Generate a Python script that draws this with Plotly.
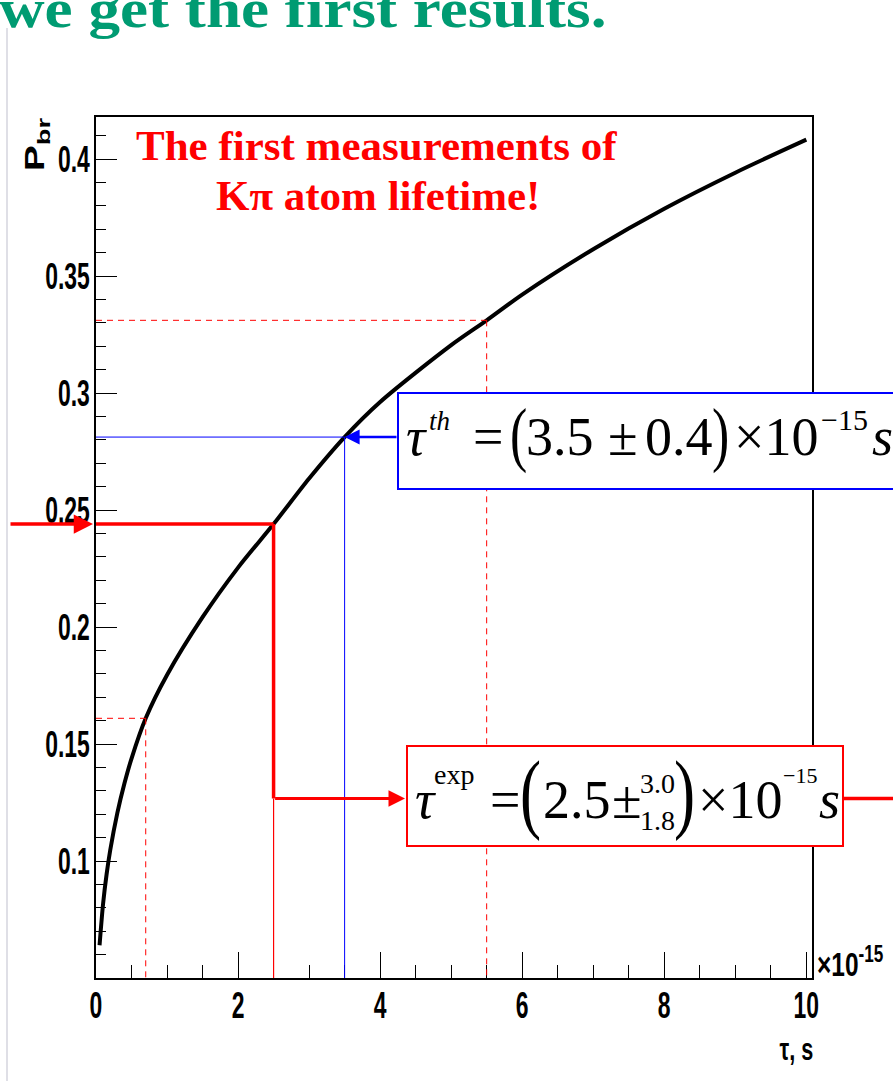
import numpy as np
import plotly.graph_objects as go

# ---- data -------------------------------------------------------------
# break-up probability of the K-pi atom versus its lifetime (units of 1e-15 s)
tau = [0.05, 0.1, 0.15, 0.2, 0.3, 0.4, 0.5, 0.7, 1.0, 1.5, 2.0, 2.5, 3.0,
       3.5, 4.0, 5.0, 5.5, 6.0, 7.0, 8.0, 9.0, 10.0]
p_br = [0.064, 0.0818, 0.0945, 0.1046, 0.1205, 0.1331, 0.1438, 0.161, 0.1795,
        0.2042, 0.2254, 0.244, 0.2635, 0.2812, 0.2962, 0.3205, 0.3311, 0.3421,
        0.3615, 0.3788, 0.3942, 0.4083]

tau_exp = 2.5          # measured lifetime
tau_exp_up = 3.0       # upper error
tau_exp_dn = 1.8       # lower error
tau_th = 3.5           # theoretical lifetime
tau_th_err = 0.4

x_tick_vals = [0, 2, 4, 6, 8, 10]
x_tick_text = ["0", "2", "4", "6", "8", "10"]
y_tick_vals = [0.1, 0.15, 0.2, 0.25, 0.3, 0.35, 0.4]
y_tick_text = ["0.1", "0.15", "0.2", "0.25", "0.3", "0.35", "0.4"]

# ---- geometry ---------------------------------------------------------
W, H = 893, 1081
ML, MR, MT, MB = 96, 81, 117, 103
X_RANGE = [0, 10.08]
Y_RANGE = [0.05, 0.418]
PW, PH = W - ML - MR, H - MT - MB

SERIF = "Liberation Serif, Times New Roman, serif"
SANS = "Liberation Sans, Arial, Helvetica, sans-serif"
RED, BLUE, GREEN = "#ff0000", "#0000ff", "#009b72"


def px_x(px):
    return (px - ML) / PW


def px_y(py):
    return (H - MB - py) / PH


def xdata_px(v):
    return ML + (v - X_RANGE[0]) / (X_RANGE[1] - X_RANGE[0]) * PW


def ydata_px(v):
    return H - MB - (v - Y_RANGE[0]) / (Y_RANGE[1] - Y_RANGE[0]) * PH


p_exp = float(np.interp(tau_exp, tau, p_br))
p_lo = float(np.interp(tau_exp - tau_exp_dn, tau, p_br))
p_hi = float(np.interp(tau_exp + tau_exp_up, tau, p_br))
p_th = float(np.interp(tau_th, tau, p_br))

annotations = []
shapes = []


def put(left, base, txt, size, family=SERIF, color="black", bold=False,
        italic=False, xanchor="left", desc=0.216):
    annotations.append(dict(
        xref="paper", yref="paper", x=px_x(left), y=px_y(base + desc * size),
        xanchor=xanchor, yanchor="bottom", align=xanchor, text=txt,
        showarrow=False, borderpad=0, borderwidth=0,
        font=dict(family=family, size=size, color=color,
                  weight="bold" if bold else "normal",
                  style="italic" if italic else "normal")))


def seg(x0, y0, x1, y1, color, width, dash="solid", ref="data"):
    d = dict(type="line", x0=x0, y0=y0, x1=x1, y1=y1, layer="above",
             line=dict(color=color, width=width, dash=dash))
    if ref == "data":
        d.update(xref="x", yref="y")
    else:
        d.update(xref="paper", yref="paper")
    shapes.append(d)


# ---- curve ------------------------------------------------------------
fig = go.Figure()
fig.add_trace(go.Scatter(x=tau, y=p_br, mode="lines",
                         line=dict(color="black", width=4, shape="spline",
                                   smoothing=0.8),
                         hoverinfo="skip", showlegend=False))

# ---- guide lines ------------------------------------------------------
arrow_y_exp = 0.1267
dash = "6px,5px"
seg(0, p_lo, tau_exp - tau_exp_dn, p_lo, RED, 1, dash)
seg(tau_exp - tau_exp_dn, p_lo, tau_exp - tau_exp_dn, Y_RANGE[0], RED, 1, dash)
seg(0, p_hi, tau_exp + tau_exp_up, p_hi, RED, 1, dash)
seg(tau_exp + tau_exp_up, p_hi, tau_exp + tau_exp_up, Y_RANGE[0], RED, 1, dash)

seg(0, p_th, tau_th, p_th, BLUE, 1)
seg(tau_th, p_th, tau_th, Y_RANGE[0], BLUE, 1)

seg(0, p_exp, tau_exp, p_exp, RED, 3.5)
seg(tau_exp, p_exp, tau_exp, arrow_y_exp, RED, 3.5)
seg(tau_exp, arrow_y_exp, tau_exp, Y_RANGE[0], RED, 1.2)

# ---- result boxes -----------------------------------------------------
shapes.append(dict(type="rect", xref="paper", yref="paper", layer="above",
                   x0=px_x(398), x1=px_x(910), y0=px_y(489), y1=px_y(393),
                   fillcolor="white", line=dict(color=BLUE, width=2)))
shapes.append(dict(type="rect", xref="paper", yref="paper", layer="above",
                   x0=px_x(407), x1=px_x(843), y0=px_y(846), y1=px_y(746),
                   fillcolor="white", line=dict(color=RED, width=2)))
ay_px = ydata_px(arrow_y_exp)
seg(px_x(843), px_y(ay_px), px_x(910), px_y(ay_px), RED, 3.5, ref="paper")

# slide border
seg(px_x(7), px_y(28), px_x(7), px_y(H + 5), "#d4d4de", 1.5, ref="paper")

# ---- arrows -----------------------------------------------------------
annotations.append(dict(xref="paper", yref="paper", x=px_x(93),
                        y=px_y(ydata_px(p_exp)), ax=-84, ay=0, text="",
                        showarrow=True, arrowhead=2, arrowsize=1.1,
                        arrowwidth=3.5, arrowcolor=RED, standoff=0))
annotations.append(dict(xref="x", yref="y", x=tau_th, y=p_th,
                        ax=398 - xdata_px(tau_th), ay=0, text="",
                        showarrow=True, arrowhead=2, arrowsize=1.2,
                        arrowwidth=2.5, arrowcolor=BLUE, standoff=0))
annotations.append(dict(xref="paper", yref="paper", x=px_x(405),
                        y=px_y(ay_px), ax=xdata_px(tau_exp) - 405, ay=0,
                        text="", showarrow=True, arrowhead=2, arrowsize=1.1,
                        arrowwidth=3, arrowcolor=RED, standoff=0))

# ---- texts ------------------------------------------------------------
put(-1, 27, "we get the first results.", 54, bold=True, color=GREEN)
put(376, 160, "The first measurements of", 43, bold=True, color=RED,
    xanchor="center")
put(378, 210, "Kπ atom lifetime!", 43, bold=True, color=RED, xanchor="center")

# theory box
put(406, 455, "τ", 54, italic=True)
put(429, 430, "th", 27, italic=True)
put(473, 455, "=", 54)
put(510, 458, "(", 72)
put(526, 455, "3.5", 54)
put(608, 455, "±", 54)
put(645, 455, "0.4", 54)
put(712, 458, ")", 72)
put(734, 455, "×10", 54)
put(821, 430, "−15", 30)
put(872, 455, "s", 54, italic=True)

# experiment box
put(415, 818, "τ", 54, italic=True)
put(434, 784, "exp", 28)
put(490, 818, "=", 54)
put(520, 822, "(", 88)
put(543, 818, f"{tau_exp}", 54)
put(612, 818, "±", 54)
put(640, 793, f"{tau_exp_up}", 28)
put(640, 830, f"{tau_exp_dn}", 28)
put(674, 822, ")", 88)
put(698, 818, "×10", 54)
put(783, 783, "−15", 22)
put(819, 818, "s", 54, italic=True)

# axis titles / exponent
annotations.append(dict(xref="paper", yref="paper", x=px_x(37), y=px_y(144),
                        xanchor="center", yanchor="middle", textangle=-90,
                        text="P<sub>br</sub>", showarrow=False,
                        font=dict(family=SANS, size=27, color="black",
                                  weight="bold")))
put(817, 976, "×10<sup>-15</sup>", 34, family=SANS, bold=True, desc=0.212)
put(813, 1060, "τ, s", 31, family=SANS, bold=True, xanchor="right",
    desc=0.212)

axis_common = dict(showline=True, linecolor="black", linewidth=1.5,
                   mirror=True, ticks="inside", tickcolor="black",
                   tickwidth=1, showgrid=False, zeroline=False,
                   tickfont=dict(family=SANS, size=37, color="black",
                                 weight="bold"))

fig.update_layout(
    width=W, height=H, margin=dict(l=ML, r=MR, t=MT, b=MB),
    paper_bgcolor="white", plot_bgcolor="white", showlegend=False,
    xaxis=dict(range=X_RANGE, tickmode="array", tickvals=x_tick_vals,
               ticktext=x_tick_text, ticklen=26,
               minor=dict(tickmode="linear", tick0=0, dtick=0.5, ticklen=13,
                          ticks="inside", tickcolor="black", tickwidth=1),
               ticklabelstandoff=-6, **axis_common),
    yaxis=dict(range=Y_RANGE, tickmode="array", tickvals=y_tick_vals,
               ticktext=y_tick_text, ticklen=21,
               minor=dict(tickmode="linear", tick0=0, dtick=0.01,
                          ticklen=10.5, ticks="inside", tickcolor="black",
                          tickwidth=1),
               ticklabelstandoff=-3, **axis_common),
    shapes=shapes, annotations=annotations,
)

# Condensed axis lettering, slim brackets and a widened heading: scale the
# svg text horizontally about its own anchor point after every redraw.
post_script = """
var gd = document.getElementById('{plot_id}');
var widths = {'we get the first results.': 1.17, '\\u00d710-15': 0.72,
              '\\u03c4, s': 0.7, 'Pbr': 1.45, '(': 0.72, ')': 0.72};
function condense(t, s) {
  var tr = t.getAttribute('transform') || '';
  if (tr.indexOf('scale(') >= 0) return;
  var x = parseFloat(t.getAttribute('x')) || 0;
  t.setAttribute('transform', tr + ' translate(' + x + ',0) scale(' + s +
                 ',1) translate(' + (-x) + ',0)');
}
function restyleText() {
  gd.querySelectorAll('.xtick text, .ytick text').forEach(function(t) {
    condense(t, 0.62);
  });
  gd.querySelectorAll('text.annotation-text').forEach(function(t) {
    var key = t.textContent.replace(/[\\u200b\\s]/g, '');
    if (key === '\\u03c4,s') key = '\\u03c4, s';
    if (key === 'wegetthefirstresults.') key = 'we get the first results.';
    var s = widths[key];
    if (s) condense(t, s);
  });
}
restyleText();
gd.on('plotly_afterplot', restyleText);
"""

fig.write_html("out.html", post_script=post_script)
